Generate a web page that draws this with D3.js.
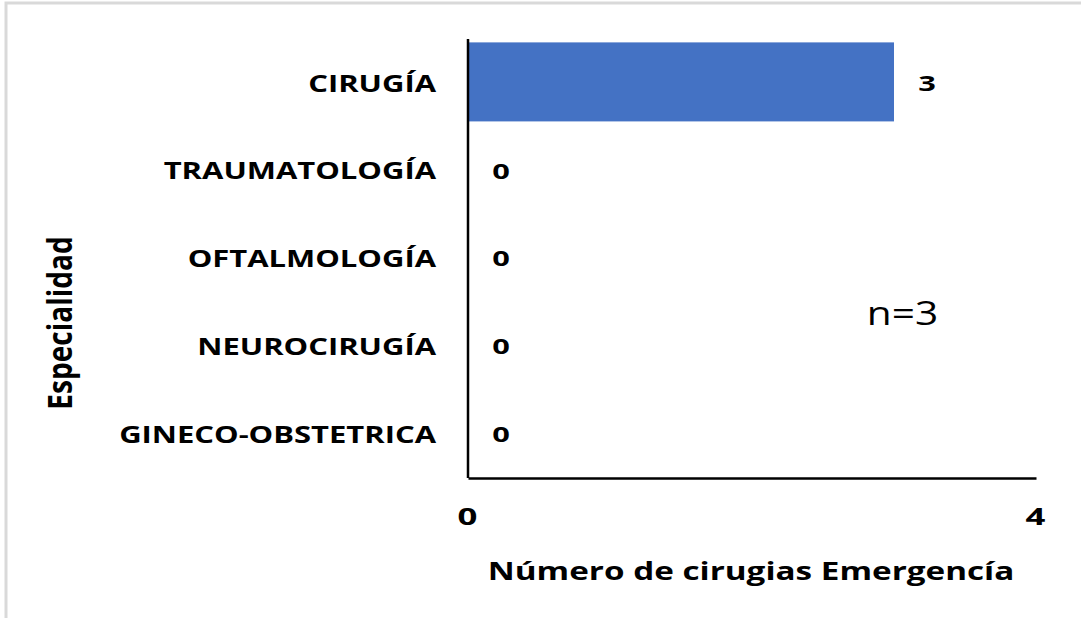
<!DOCTYPE html>
<html lang="es">
<head>
  <meta charset="UTF-8">
  <title>Número de cirugias Emergencía</title>
  <script src="https://d3js.org/d3.v7.min.js"></script>
  <style>
    body { margin: 0; background: #fff; }
    svg text { font-family: "Open Sans", sans-serif; fill: #000; }
  </style>
</head>
<body>
  <div id="chart"></div>
  <script>
    // datos
    const especialidades = ["CIRUGÍA", "TRAUMATOLOGÍA", "OFTALMOLOGÍA", "NEUROCIRUGÍA", "GINECO-OBSTETRICA"];
    const cirugias = [3, 0, 0, 0, 0];
    const xTicks = [0, 4];
    const tituloX = "Número de cirugias Emergencía";
    const tituloY = "Especialidad";
    const nota = "n=3";

    const width = 1081, height = 618;
    const margin = { top: 39, right: 45, bottom: 140, left: 468 };

    const svg = d3.select("#chart").append("svg")
      .attr("width", width)
      .attr("height", height);

    // marco gris
    svg.append("path")
      .attr("d", `M6,${height} V3 H${width}`)
      .attr("fill", "none")
      .attr("stroke", "#d9d9d9")
      .attr("stroke-width", 3);

    const x = d3.scaleLinear()
      .domain([0, 4])
      .range([margin.left, width - margin.right]);

    const y = d3.scaleBand()
      .domain(especialidades)
      .range([margin.top, height - margin.bottom])
      .paddingInner(0.1)
      .paddingOuter(0.05);

    // barras
    svg.append("g")
      .selectAll("rect")
      .data(especialidades)
      .join("rect")
      .attr("x", x(0))
      .attr("y", d => y(d) - 1)
      .attr("width", (d, i) => x(cirugias[i]) - x(0))
      .attr("height", y.bandwidth())
      .attr("fill", "#4472c4");

    // etiquetas de valor (el texto original sale estirado a lo ancho)
    svg.append("g")
      .selectAll("text")
      .data(especialidades)
      .join("text")
      .attr("transform", (d, i) =>
        `translate(${x(cirugias[i]) + 33},${y(d) + y.bandwidth() / 2}) scale(1.4,1)`)
      .attr("dy", "0.36em")
      .attr("text-anchor", "middle")
      .attr("font-size", 22)
      .attr("font-weight", "bold")
      .text((d, i) => cirugias[i]);

    // eje y
    const yAxis = svg.append("g")
      .attr("transform", `translate(${margin.left},0)`)
      .call(d3.axisLeft(y).tickSize(0));
    yAxis.select(".domain").attr("stroke", "#000").attr("stroke-width", 2.5)
      .attr("d", `M0,${margin.top}V${height - margin.bottom}`);
    yAxis.selectAll(".tick text")
      .attr("x", 0)
      .attr("dy", "0.36em")
      .attr("transform", "translate(-32,0) scale(1.29,1)")
      .attr("font-size", 24)
      .attr("font-weight", "bold")
      .attr("font-family", "\"Open Sans\", sans-serif");

    // eje x
    const xAxis = svg.append("g")
      .attr("transform", `translate(0,${height - margin.bottom})`)
      .call(d3.axisBottom(x).tickValues(xTicks).tickFormat(d3.format("d")).tickSize(0));
    xAxis.select(".domain").attr("stroke", "#000").attr("stroke-width", 2.5);
    xAxis.selectAll(".tick text")
      .attr("y", 0)
      .attr("dy", 0)
      .attr("transform", "translate(-1,47) scale(1.45,1)")
      .attr("font-size", 24)
      .attr("font-weight", "bold")
      .attr("font-family", "\"Open Sans\", sans-serif");

    // títulos
    svg.append("text")
      .attr("transform", "translate(751,580) scale(1.33,1)")
      .attr("text-anchor", "middle")
      .attr("font-size", 25)
      .attr("font-weight", "bold")
      .text(tituloX);

    svg.append("text")
      .attr("transform", "translate(72,323) rotate(-90) scale(1.08,1.3)")
      .attr("text-anchor", "middle")
      .attr("font-size", 26)
      .attr("font-weight", "bold")
      .text(tituloY);

    svg.append("text")
      .attr("transform", `translate(${x(3.06)},325) scale(1.27,1)`)
      .attr("text-anchor", "middle")
      .attr("font-size", 32)
      .text(nota);
  </script>
</body>
</html>
